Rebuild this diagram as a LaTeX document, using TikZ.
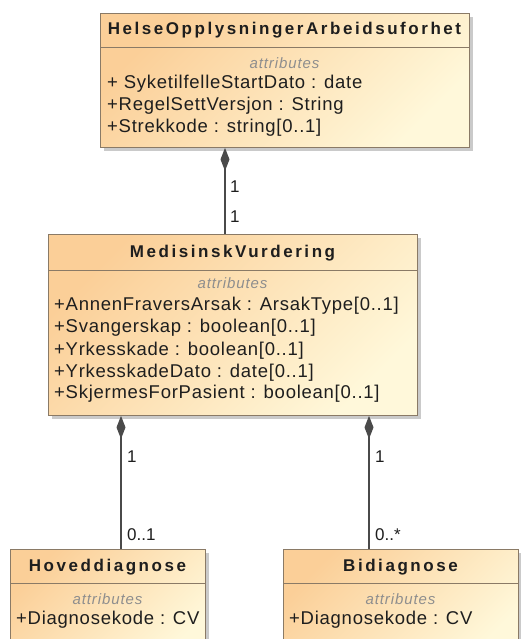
\documentclass[tikz,border=0pt]{standalone}
\usepackage{fontspec}
\setmainfont{Liberation Sans}
\newfontfamily\tfont[LetterSpace=15]{Liberation Sans}
\newfontfamily\afont[LetterSpace=4]{Liberation Sans}
\newfontfamily\hfont[LetterSpace=6]{Liberation Sans}
\usetikzlibrary{arrows.meta,shadows}
\definecolor{boxA}{HTML}{FBCF98}
\definecolor{boxB}{HTML}{FFF8DA}
\definecolor{edgec}{HTML}{8A7A66}
\definecolor{shadec}{HTML}{B4B4B4}
\definecolor{ink}{HTML}{1E1E1E}
\definecolor{attrc}{HTML}{8E8E8E}
\definecolor{wire}{HTML}{4A4A4A}
\tikzset{
  classbox/.style={draw=edgec, line width=0.9pt, top color=boxA, bottom color=boxB,
    shading angle=45, inner sep=0pt, anchor=north west,
    drop shadow={shadow xshift=4pt, shadow yshift=-4pt, fill=shadec, opacity=0.7}},
  sep/.style={draw=edgec, line width=0.9pt},
  title/.style={font=\tfont\bfseries\fontsize{17}{19}\selectfont, text=ink, inner sep=0pt},
  attrhead/.style={font=\hfont\itshape\fontsize{15}{17}\selectfont, text=attrc, inner sep=0pt},
  attrline/.style={font=\afont\fontsize{18.5}{21}\selectfont, text=ink, inner sep=0pt, anchor=west},
  mult/.style={font=\fontsize{17}{19}\selectfont, text=ink, inner sep=0pt, anchor=west},
  comp/.style={draw=wire, line width=1.3pt, {Diamond[length=23pt,width=9pt,fill=wire]}-}
}
\begin{document}
\begin{tikzpicture}[x=1pt,y=-1pt]
\useasboundingbox (0,0) rectangle (521,639);
\clip (0,0) rectangle (521,639);
\fill[white] (0,0) rectangle (521,639);

% classes
\node[classbox, minimum width=369pt, minimum height=134pt] (top) at (100,13) {};
\draw[sep] (top.west |- 0,47) -- (top.east |- 0,47);
\node[title] (topT) at (284.5,30) {HelseOpplysningerArbeidsuforhet};
\node[attrhead] (topA) at (284.5,63) {attributes};
\node[attrline] (t1) at (107,84) {+ SyketilfelleStartDato : date};
\node[attrline] (t2) at (107,106) {+RegelSettVersjon : String};
\node[attrline] (t3) at (107,128) {+Strekkode : string[0..1]};

\node[classbox, minimum width=369pt, minimum height=181pt] (mid) at (48,234) {};
\draw[sep] (mid.west |- 0,270) -- (mid.east |- 0,270);
\node[title] (midT) at (232.5,253) {MedisinskVurdering};
\node[attrhead] (midA) at (232.5,283) {attributes};
\node[attrline] (m1) at (54,306) {+AnnenFraversArsak : ArsakType[0..1]};
\node[attrline] (m2) at (54,328) {+Svangerskap : boolean[0..1]};
\node[attrline] (m3) at (54,351) {+Yrkesskade : boolean[0..1]};
\node[attrline] (m4) at (54,373) {+YrkesskadeDato : date[0..1]};
\node[attrline] (m5) at (54,394) {+SkjermesForPasient : boolean[0..1]};

\node[classbox, minimum width=195pt, minimum height=110pt] (hov) at (10,549) {};
\draw[sep] (hov.west |- 0,583) -- (hov.east |- 0,583);
\node[title] (hovT) at (107.5,567) {Hoveddiagnose};
\node[attrhead] (hovA) at (107.5,599) {attributes};
\node[attrline] (h1) at (16,620) {+Diagnosekode : CV};

\node[classbox, minimum width=235pt, minimum height=110pt] (bid) at (283,549) {};
\draw[sep] (bid.west |- 0,583) -- (bid.east |- 0,583);
\node[title] (bidT) at (400.5,567) {Bidiagnose};
\node[attrhead] (bidA) at (400.5,599) {attributes};
\node[attrline] (b1) at (289,620) {+Diagnosekode : CV};

% connectors
\coordinate (xa) at (225,0);
\coordinate (xb) at (121,0);
\coordinate (xc) at (369,0);
\draw[comp] (top.south -| xa) -- (mid.north -| xa);
\draw[comp] (mid.south -| xb) -- (hov.north -| xb);
\draw[comp] (mid.south -| xc) -- (bid.north -| xc);

% multiplicities
\node[mult] (l1) at (230,187) {1};
\node[mult] (l2) at (230,217) {1};
\node[mult] (l3) at (127,457) {1};
\node[mult] (l4) at (127,535) {0..1};
\node[mult] (l5) at (375,457) {1};
\node[mult] (l6) at (375,535) {0..*};
\end{tikzpicture}
\end{document}
